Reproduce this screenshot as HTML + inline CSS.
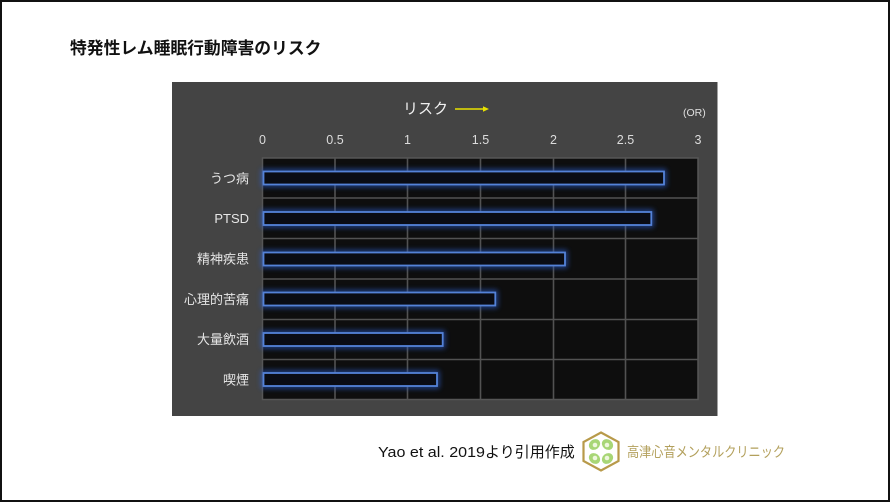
<!DOCTYPE html>
<html><head><meta charset="utf-8"><style>
html,body{margin:0;padding:0;background:#fff;}
svg{display:block;}
</style></head><body>
<svg width="890" height="502" viewBox="0 0 890 502" xmlns="http://www.w3.org/2000/svg">
<defs>
<filter id="glow" x="-10%" y="-100%" width="120%" height="300%">
<feGaussianBlur stdDeviation="2.6"/>
</filter>
</defs>
<rect x="0" y="0" width="890" height="502" fill="#fff"/>
<rect x="1" y="1" width="888" height="500" fill="none" stroke="#111" stroke-width="2"/>
<text x="70" y="54" font-family="'Liberation Sans','Noto Sans CJK JP',sans-serif" font-size="16.8" font-weight="bold" fill="#111">特発性レム睡眠行動障害のリスク</text>

<!-- panel -->
<rect x="172" y="82" width="545.5" height="334" fill="#444444"/>
<!-- plot -->
<rect x="262.5" y="158" width="435.5" height="241.5" fill="#0e0e0e" stroke="#565656" stroke-width="1.5"/>
<g stroke="#525252" stroke-width="1.6">
<line x1="335" y1="158" x2="335" y2="399.5"/>
<line x1="407.5" y1="158" x2="407.5" y2="399.5"/>
<line x1="480.5" y1="158" x2="480.5" y2="399.5"/>
<line x1="553.5" y1="158" x2="553.5" y2="399.5"/>
<line x1="625.5" y1="158" x2="625.5" y2="399.5"/>
<line x1="262.5" y1="198" x2="698" y2="198"/>
<line x1="262.5" y1="238.5" x2="698" y2="238.5"/>
<line x1="262.5" y1="279" x2="698" y2="279"/>
<line x1="262.5" y1="319.5" x2="698" y2="319.5"/>
<line x1="262.5" y1="359.5" x2="698" y2="359.5"/>
</g>

<!-- bars glow -->
<g filter="url(#glow)" stroke="#2a58c0" stroke-width="4.5" fill="none" opacity="0.8">
<rect x="263.5" y="171.5" width="400.5" height="13"/>
<rect x="263.5" y="212" width="387.8" height="13"/>
<rect x="263.5" y="252.5" width="301.5" height="13"/>
<rect x="263.5" y="292.5" width="231.8" height="13"/>
<rect x="263.5" y="333" width="179.2" height="13"/>
<rect x="263.5" y="373" width="173.5" height="13"/>
</g>
<g stroke="#5482d8" stroke-width="1.8" fill="#0a0c14">
<rect x="263.5" y="171.5" width="400.5" height="13"/>
<rect x="263.5" y="212" width="387.8" height="13"/>
<rect x="263.5" y="252.5" width="301.5" height="13"/>
<rect x="263.5" y="292.5" width="231.8" height="13"/>
<rect x="263.5" y="333" width="179.2" height="13"/>
<rect x="263.5" y="373" width="173.5" height="13"/>
</g>

<!-- category labels -->
<g font-family="'Liberation Sans','Noto Sans CJK JP',sans-serif" font-size="13" fill="#e6e6e6" text-anchor="end">
<text x="249" y="183">うつ病</text>
<text x="249" y="223">PTSD</text>
<text x="249" y="263.5">精神疾患</text>
<text x="249" y="304">心理的苦痛</text>
<text x="249" y="344">大量飲酒</text>
<text x="249" y="384.5">喫煙</text>
</g>

<!-- tick labels -->
<g font-family="'Liberation Sans',sans-serif" font-size="12.5" fill="#dcdcdc" text-anchor="middle">
<text x="262.5" y="144">0</text>
<text x="335" y="144">0.5</text>
<text x="407.5" y="144">1</text>
<text x="480.5" y="144">1.5</text>
<text x="553.5" y="144">2</text>
<text x="625.5" y="144">2.5</text>
<text x="698" y="144">3</text>
</g>

<text x="403" y="113.5" font-family="'Liberation Sans','Noto Sans CJK JP',sans-serif" font-size="15" fill="#f0f0f0">リスク</text>
<line x1="455" y1="109" x2="484" y2="109" stroke="#e8e200" stroke-width="1.6"/>
<polygon points="483,106.3 489,109 483,111.7" fill="#e8e200"/>
<text x="683" y="116" font-family="'Liberation Sans',sans-serif" font-size="10.5" fill="#e0e0e0">(OR)</text>

<!-- footer -->
<text x="378" y="457" font-family="'Liberation Sans','Noto Sans CJK JP',sans-serif" font-size="15" fill="#111"><tspan textLength="107" lengthAdjust="spacingAndGlyphs">Yao et al. 2019</tspan><tspan>より引用作成</tspan></text>

<!-- logo -->
<polygon points="601,432.5 618.5,442 618.5,461 601,470.5 583.5,461 583.5,442" fill="#fff" stroke="#b89a4a" stroke-width="2.2"/>
<g fill="#a8d676">
<ellipse cx="594.5" cy="444.5" rx="6" ry="5" transform="rotate(-40 594.5 444.5)"/>
<ellipse cx="607.5" cy="444.5" rx="6" ry="5" transform="rotate(40 607.5 444.5)"/>
<ellipse cx="594.5" cy="458.5" rx="6" ry="5" transform="rotate(40 594.5 458.5)"/>
<ellipse cx="607.5" cy="458.5" rx="6" ry="5" transform="rotate(-40 607.5 458.5)"/>
</g>
<g fill="#eef7dd">
<circle cx="595" cy="445" r="2.3"/>
<circle cx="607" cy="445" r="2.3"/>
<circle cx="595" cy="458" r="2.3"/>
<circle cx="607" cy="458" r="2.3"/>
</g>

<text x="627" y="457" font-family="'Liberation Sans','Noto Sans CJK JP',sans-serif" font-size="14.3" fill="#b3a05c" textLength="158" lengthAdjust="spacingAndGlyphs">高津心音メンタルクリニック</text>
</svg>
</body></html>
